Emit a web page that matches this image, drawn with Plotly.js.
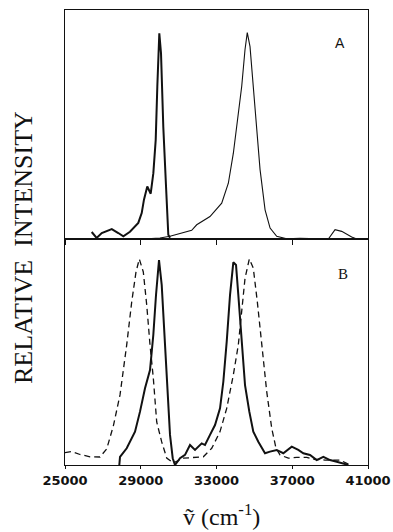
<!DOCTYPE html>
<html>
<head>
<meta charset="utf-8">
<script src="https://cdn.plot.ly/plotly-3.0.1.min.js"></script>
<style>html,body{margin:0;padding:0;background:#fff;}#chart{width:393px;height:532px;}</style>
</head>
<body>
<div id="chart"></div>
<script>
// Panel A, thick solid curve (left peak)
const aSolidX = [26410, 26670, 26940, 27470, 27815, 28080, 28430, 28870, 29050, 29170, 29345, 29525, 29665, 29790, 29875, 29980, 30070, 30190, 30335, 30455, 30545];
const aSolidY = [0.034, 0.005, 0.029, 0.048, 0.029, 0.013, 0.035, 0.078, 0.126, 0.191, 0.255, 0.220, 0.320, 0.482, 0.741, 1.000, 0.903, 0.546, 0.255, 0.021, 0.006];
// Panel A, thin curve (right peak + small bump)
const aThinX = [29120, 30015, 30545, 31690, 31955, 32655, 33275, 33625, 33890, 34150, 34330, 34505, 34625, 34770, 34945, 35125, 35300, 35565, 35830, 36180, 36710, 37410, 38200, 38905, 39260, 39610, 40140, 40405];
const aThinY = [0.000, 0.005, 0.013, 0.042, 0.069, 0.109, 0.174, 0.271, 0.417, 0.627, 0.741, 0.920, 1.003, 0.935, 0.741, 0.531, 0.337, 0.142, 0.053, 0.013, 0.001, 0.003, 0.002, 0.000, 0.045, 0.037, 0.010, 0.000];
// Panel B, solid curve
const bSolidX = [27868, 27905, 28258, 28697, 28961, 29225, 29489, 29663, 29806, 29964, 30107, 30281, 30402, 30545, 30688, 30809, 31073, 31337, 31601, 31865, 32219, 32393, 32657, 32922, 33186, 33360, 33539, 33714, 33888, 34031, 34152, 34331, 34506, 34733, 34944, 35208, 35562, 35826, 36180, 36528, 36972, 37320, 37584, 37938, 38292, 38641, 38995, 39348, 39697, 39961];
const bSolidY = [0.000, 0.039, 0.081, 0.162, 0.259, 0.372, 0.461, 0.631, 0.825, 0.995, 0.874, 0.583, 0.372, 0.146, 0.033, 0.000, 0.033, 0.049, 0.097, 0.073, 0.105, 0.097, 0.146, 0.194, 0.275, 0.404, 0.599, 0.825, 0.984, 0.971, 0.825, 0.599, 0.388, 0.259, 0.162, 0.113, 0.057, 0.065, 0.073, 0.057, 0.089, 0.073, 0.057, 0.049, 0.024, 0.040, 0.024, 0.016, 0.008, 0.000];
// Panel B, dashed curve
const bDashX = [25000, 25354, 25792, 26320, 26848, 27202, 27551, 27905, 28258, 28522, 28749, 28924, 29135, 29315, 29489, 29663, 29843, 30107, 30371, 30719, 31247, 31775, 32304, 32747, 33186, 33539, 33888, 34152, 34331, 34506, 34733, 34944, 35155, 35388, 35652, 35916, 36143, 36354, 36793, 37236, 37764, 38113, 38731, 39523, 39877, 40051];
const bDashY = [0.060, 0.065, 0.051, 0.040, 0.039, 0.078, 0.189, 0.340, 0.583, 0.791, 0.937, 1.000, 0.937, 0.777, 0.583, 0.422, 0.209, 0.112, 0.034, 0.010, 0.033, 0.035, 0.040, 0.081, 0.162, 0.275, 0.437, 0.583, 0.761, 0.906, 1.000, 0.955, 0.793, 0.583, 0.356, 0.178, 0.081, 0.049, 0.033, 0.037, 0.037, 0.028, 0.024, 0.024, 0.008, 0.000];

const xTickVals = [25000, 29000, 33000, 37000, 41000];
const xTickText = ['25000', '29000', '33000', '37000', '41000'];
const panelLabels = ['A', 'B'];
const yTitle = 'RELATIVE\u00a0\u00a0INTENSITY';
const xTitle = '\u1e7d (cm<sup>-1</sup>)';

const ink = '#111';
const traces = [
  {x: aSolidX, y: aSolidY, xaxis: 'x', yaxis: 'y', mode: 'lines', line: {color: ink, width: 2}, hoverinfo: 'skip'},
  {x: aThinX, y: aThinY, xaxis: 'x', yaxis: 'y', mode: 'lines', line: {color: ink, width: 1.1}, hoverinfo: 'skip'},
  {x: bSolidX, y: bSolidY, xaxis: 'x2', yaxis: 'y2', mode: 'lines', line: {color: ink, width: 2}, hoverinfo: 'skip'},
  {x: bDashX, y: bDashY, xaxis: 'x2', yaxis: 'y2', mode: 'lines', line: {color: ink, width: 1.3, dash: '6px,4px'}, hoverinfo: 'skip'}
];

const split = 226 / 455;
const frame = {showline: true, linecolor: ink, linewidth: 1.3, mirror: true, showgrid: false, zeroline: false};
const layout = {
  width: 393, height: 532,
  margin: {l: 65, r: 25, t: 10, b: 67},
  paper_bgcolor: '#fff', plot_bgcolor: '#fff',
  showlegend: false,
  xaxis: Object.assign({}, frame, {domain: [0, 1], anchor: 'y', range: [25000, 41000], tickvals: xTickVals, ticktext: xTickText, showticklabels: false, ticks: 'outside', ticklen: 5, tickcolor: ink, tickwidth: 1}),
  yaxis: Object.assign({}, frame, {domain: [split, 1], anchor: 'x', range: [0, 1.113], showticklabels: false, ticks: ''}),
  xaxis2: Object.assign({}, frame, {domain: [0, 1], anchor: 'y2', range: [25000, 41000], tickvals: xTickVals, ticktext: xTickText, ticks: 'outside', ticklen: 3, tickcolor: ink, tickwidth: 1,
    tickfont: {family: 'DejaVu Sans', size: 13, color: ink, weight: 'bold'}}),
  yaxis2: Object.assign({}, frame, {domain: [0, split], anchor: 'x2', range: [0, 1.097], showticklabels: false, ticks: ''}),
  annotations: [
    {text: panelLabels[0], xref: 'paper', yref: 'paper', x: 0.908, y: 0.927, xanchor: 'center', yanchor: 'middle', showarrow: false, font: {family: 'Liberation Sans', size: 14, color: ink}},
    {text: panelLabels[1], xref: 'paper', yref: 'paper', x: 0.917, y: 0.42, xanchor: 'center', yanchor: 'middle', showarrow: false, font: {family: 'Liberation Serif', size: 15, color: ink}},
    {text: yTitle, xref: 'paper', yref: 'paper', x: -0.135, y: 0.477, xanchor: 'center', yanchor: 'middle', textangle: -90, showarrow: false, font: {family: 'Liberation Serif', size: 26, color: ink}},
    {text: xTitle, xref: 'paper', yref: 'paper', x: 0.515, y: -0.11, xanchor: 'center', yanchor: 'middle', showarrow: false, font: {family: 'Liberation Serif, DejaVu Serif', size: 24, color: ink}}
  ]
};

Plotly.newPlot('chart', traces, layout, {staticPlot: true, displayModeBar: false});
</script>
</body>
</html>
